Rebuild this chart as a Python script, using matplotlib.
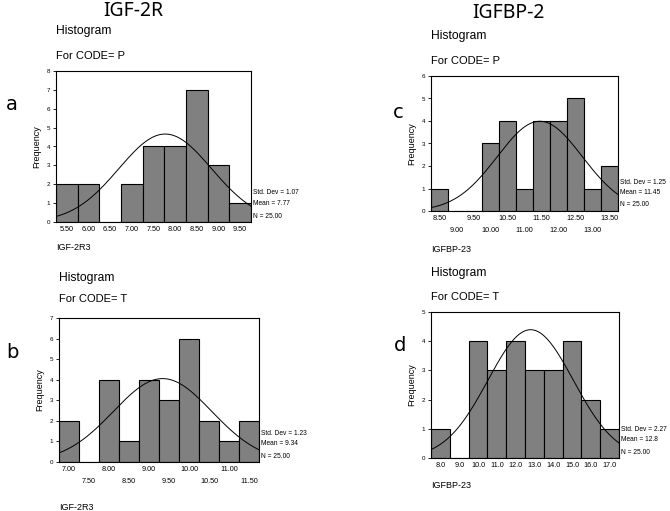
import numpy as np
import matplotlib
matplotlib.use("Agg")
import matplotlib.pyplot as plt

# ---- data ----
a_centers = [5.5, 6.0, 6.5, 7.0, 7.5, 8.0, 8.5, 9.0, 9.5]
a_counts = [2, 2, 0, 2, 4, 4, 7, 3, 1]
a_ticklabels = ["5.50", "6.00", "6.50", "7.00", "7.50", "8.00", "8.50", "9.00", "9.50"]
a_stats = (1.07, 7.77, 25.00)

b_centers = [7.0, 7.5, 8.0, 8.5, 9.0, 9.5, 10.0, 10.5, 11.0, 11.5]
b_counts = [2, 0, 4, 1, 4, 3, 6, 2, 1, 2]
b_ticklabels = ["7.00", "7.50", "8.00", "8.50", "9.00", "9.50", "10.00", "10.50", "11.00", "11.50"]
b_stats = (1.23, 9.34, 25.00)

c_centers = [8.5, 9.0, 9.5, 10.0, 10.5, 11.0, 11.5, 12.0, 12.5, 13.0, 13.5]
c_counts = [1, 0, 0, 3, 4, 1, 4, 4, 5, 1, 2]
c_ticklabels = ["8.50", "9.00", "9.50", "10.00", "10.50", "11.00", "11.50", "12.00", "12.50", "13.00", "13.50"]
c_stats = (1.25, 11.45, 25.00)

d_centers = [8.0, 9.0, 10.0, 11.0, 12.0, 13.0, 14.0, 15.0, 16.0, 17.0]
d_counts = [1, 0, 4, 3, 4, 3, 3, 4, 2, 1]
d_ticklabels = ["8.0", "9.0", "10.0", "11.0", "12.0", "13.0", "14.0", "15.0", "16.0", "17.0"]
d_stats = (2.27, 12.8, 25.00)

W, H = 670, 511
fig = plt.figure(figsize=(W / 100, H / 100), dpi=100)
FONT = "Liberation Sans"


def px_axes(x0, y0, x1, y1):
    return fig.add_axes([x0 / W, 1 - y1 / H, (x1 - x0) / W, (y1 - y0) / H])


def fig_text(x, y, s, **kw):
    kw.setdefault("family", FONT)
    fig.text(x / W, 1 - y / H, s, **kw)


def panel(box, centers, counts, ticklabels, ymax, stats, mean_str, stagger, code,
          letter, letter_xy, hist_y, code_y, xlabel, xlabel_y):
    x0, y0, x1, y1 = box
    ax = px_axes(x0, y0, x1, y1)
    width = centers[1] - centers[0]
    ax.bar(centers, counts, width=width, color="#808080", edgecolor="black",
           linewidth=0.8, align="center")
    lo = centers[0] - width / 2
    hi = centers[-1] + width / 2
    sd, mean, n = stats
    xs = np.linspace(lo, hi, 300)
    ys = n * width / (sd * np.sqrt(2 * np.pi)) * np.exp(-0.5 * ((xs - mean) / sd) ** 2)
    ax.plot(xs, ys, color="black", linewidth=0.7)
    ax.set_xlim(lo, hi)
    ax.set_ylim(0, ymax)
    ax.set_yticks(range(0, ymax + 1))
    ax.set_yticklabels([str(i) for i in range(0, ymax + 1)], fontsize=4.5, family=FONT)
    ax.set_xticks(centers)
    if stagger:
        labs = [t if i % 2 == 0 else "\n" + t for i, t in enumerate(ticklabels)]
    else:
        labs = ticklabels
    ax.set_xticklabels(labs, fontsize=5.2, family=FONT, linespacing=2.0)
    ax.tick_params(axis="x", length=0, pad=3)
    ax.tick_params(axis="y", length=2, width=0.6, pad=2)
    for s in ax.spines.values():
        s.set_linewidth(0.8)
    ax.set_ylabel("Frequency", fontsize=6.5, family=FONT, labelpad=4)
    # stats text
    tx = x1 + 2
    fig_text(tx, y1 - 29, "Std. Dev = %.2f" % sd, fontsize=4.8, va="center")
    fig_text(tx, y1 - 19, "Mean = " + mean_str, fontsize=4.8, va="center")
    fig_text(tx, y1 - 6, "N = %.2f" % n, fontsize=4.8, va="center")
    fig_text(x0, hist_y, "Histogram", fontsize=8.7, va="center")
    fig_text(x0, code_y, "For CODE= " + code, fontsize=8, va="center")
    fig_text(letter_xy[0], letter_xy[1], letter, fontsize=14, va="center",
             family="DejaVu Sans")
    fig_text(x0, xlabel_y, xlabel, fontsize=6.5, va="center")
    return ax


panel((56, 71, 251, 222), a_centers, a_counts, a_ticklabels, 8, a_stats, "7.77",
      False, "P", "a", (6, 105), 31, 56, "IGF-2R3", 248)
panel((59, 318, 259, 462), b_centers, b_counts, b_ticklabels, 7, b_stats, "9.34",
      True, "T", "b", (6, 352), 278, 299, "IGF-2R3", 508)
panel((431, 76, 618, 211), c_centers, c_counts, c_ticklabels, 6, c_stats, "11.45",
      True, "P", "c", (393, 113), 36, 61, "IGFBP-23", 249)
panel((431, 312, 619, 458), d_centers, d_counts, d_ticklabels, 5, d_stats, "12.8",
      False, "T", "d", (394, 345), 273, 297, "IGFBP-23", 485)

fig_text(133, 11, "IGF-2R", fontsize=14, ha="center", va="center", family="Noto Sans")
fig_text(508, 13, "IGFBP-2", fontsize=14, ha="center", va="center", family="Noto Sans")

fig.savefig("out.png", dpi=100, facecolor="white")
